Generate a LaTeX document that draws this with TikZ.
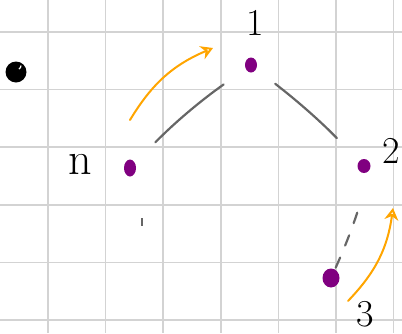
\documentclass[tikz,border=0pt]{standalone}
\usetikzlibrary{arrows.meta,shapes.geometric}
\definecolor{gridgray}{HTML}{D3D3D3}
\definecolor{dotpurple}{HTML}{800080}
\definecolor{walkorange}{HTML}{FFA500}
\definecolor{edgegray}{HTML}{666666}
\begin{document}
\begin{tikzpicture}[x=1pt, y=-1pt,
  vertex/.style={ellipse, fill=dotpurple, inner sep=0pt, minimum width=12pt, minimum height=15pt},
  edge/.style={edgegray, line width=2.2pt, line cap=round},
  walk/.style={walkorange, line width=2pt, line cap=round, -{Stealth[open, length=12pt, width=14pt]}},
  numtext/.style={font=\fontsize{38}{38}\selectfont}]
  \useasboundingbox (0,0) rectangle (402,333);
  \foreach \x in {48,105.6,163.2,220.8,278.4,336,393.6}
    \draw[gridgray, line width=1.6pt] (\x,0) -- (\x,333);
  \foreach \y in {32,89.6,147.2,204.8,262.4,320}
    \draw[gridgray, line width=1.6pt] (0,\y) -- (402,\y);
  \node[circle, fill=black, inner sep=0pt, minimum size=21pt] (start) at (16,72) {};
  \draw[white, line width=1.2pt] (19,69) arc (60:0:4);
  \node[vertex] (v1) at (251,65) {};
  \node[vertex, minimum height=17pt] (vn) at (130,168) {};
  \node[vertex, minimum width=13pt, minimum height=14pt] (v2) at (364,166) {};
  \node[vertex, minimum width=17pt, minimum height=19pt] (v3) at (331,278) {};
  \node[numtext] (l1) at (255,23) {1};
  \node[numtext, font=\fontsize{46}{46}\selectfont] (ln) at (80,164) {n};
  \node[numtext] (l2) at (391,151) {2};
  \node[numtext] (l3) at (365,314) {3};
  \draw[edge, shorten <=29pt, shorten >=27pt] (vn) to[bend left=5] (v1);
  \draw[edge, shorten <=24pt, shorten >=32pt] (v1) to[bend left=4] (v2);
  \draw[edge, dash pattern=on 11pt off 13pt, shorten <=40pt] (v2) to[bend left=8] (v3);
  \draw[edgegray, line width=2pt] (141.7,218) -- (141.7,226);
  \coordinate (w1a) at (130,120);
  \coordinate (w1b) at (213,48);
  \coordinate (w2a) at (348,301);
  \coordinate (w2b) at (393,208);
  \draw[walk] (w1a) to[bend left=18] (w1b);
  \draw[walk] (w2a) to[bend right=18] (w2b);
\end{tikzpicture}
\end{document}
